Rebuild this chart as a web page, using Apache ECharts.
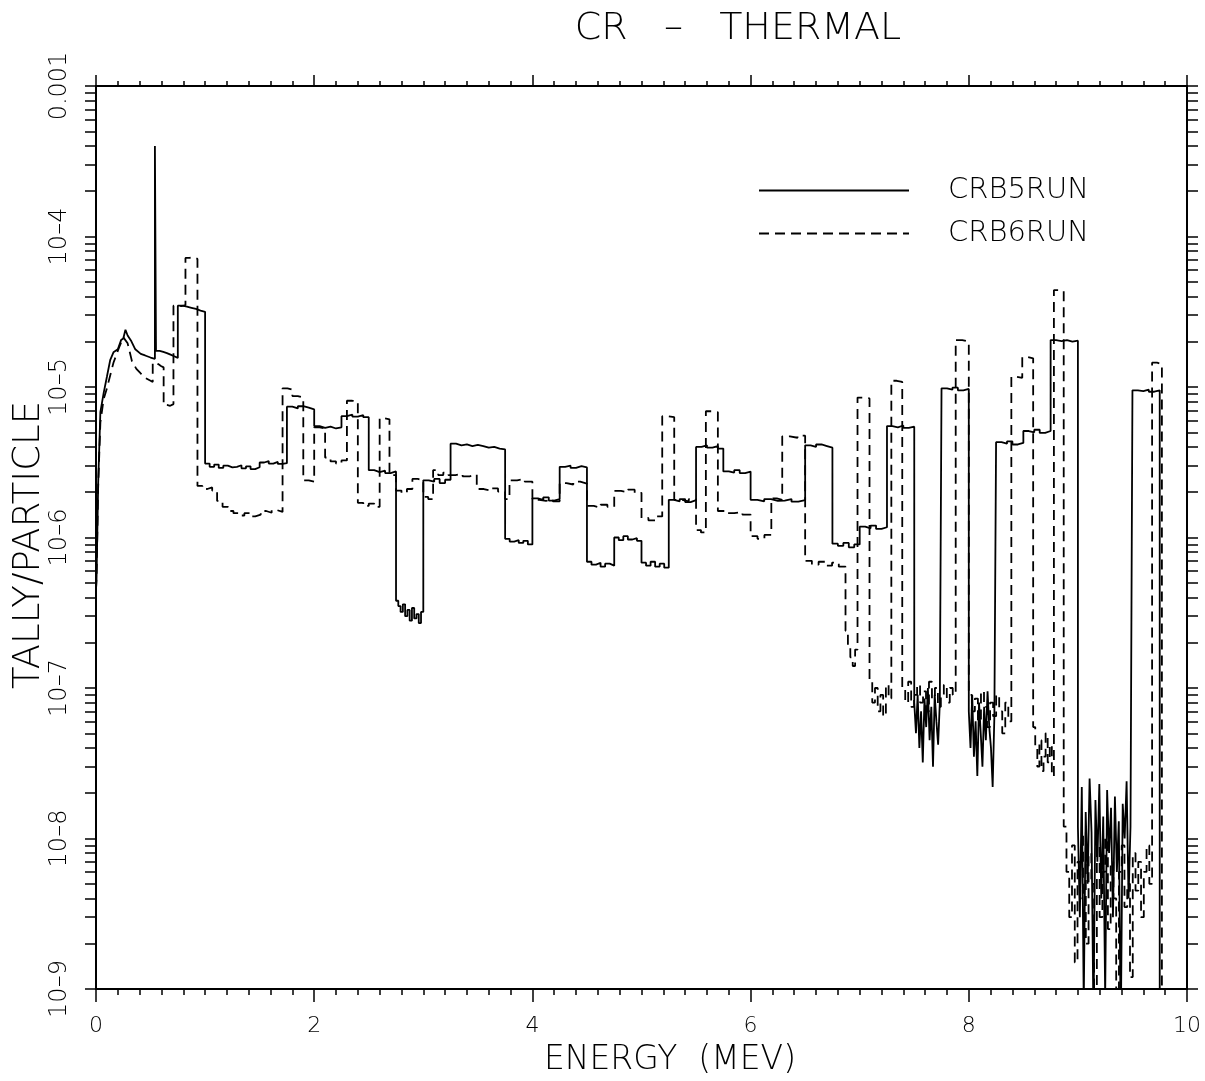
<!DOCTYPE html>
<html>
<head>
<meta charset="utf-8">
<title>CR - THERMAL</title>
<script src="https://cdn.jsdelivr.net/npm/echarts@6/dist/echarts.min.js"></script>
<style>
  html, body { margin: 0; padding: 0; background: #fff; }
  #chart { width: 1205px; height: 1081px; }
</style>
</head>
<body>
<div id="chart"></div>
<script>
// Tick labels: energy in MeV, tally decades as powers of ten
const energyTicks = [0, 2, 4, 6, 8, 10];
const tallyDecades = [-9, -8, -7, -6, -5, -4, -3];

// CRB5RUN low-energy continuum, points [E (MeV), tally/particle]
const crb5Curve = [
  [0.0, 4.5e-7], [0.005, 5.4e-7], [0.02, 2.3e-6], [0.04, 6.8e-6], [0.07, 9.1e-6],
  [0.10, 1.17e-5], [0.13, 1.51e-5], [0.16, 1.70e-5], [0.20, 1.78e-5], [0.23, 2.05e-5],
  [0.25, 2.1e-5], [0.27, 2.4e-5], [0.29, 2.2e-5], [0.32, 2.04e-5], [0.36, 1.78e-5],
  [0.41, 1.66e-5], [0.45, 1.62e-5], [0.50, 1.57e-5], [0.54, 1.54e-5]
];
// CRB5RUN histogram bin edges (MeV)
const crb5Edges = [
  0.54, 0.55, 0.75, 1.0, 1.25, 1.5, 1.75, 2.0, 2.25, 2.5, 2.75, 3.0, 3.25, 3.5, 3.75,
  4.0, 4.25, 4.5, 4.75, 5.0, 5.25, 5.5, 5.75, 6.0, 6.25, 6.5, 6.75, 7.0, 7.25, 7.5,
  7.75, 8.0, 8.25, 8.5, 8.75, 9.0, 9.5, 9.75, 10.0
];
// CRB5RUN tallies inside each bin (fine channels spread evenly across the bin)
const crb5Levels = [
  [4.0e-4],
  [1.74e-5, 1.71e-5, 1.68e-5, 1.64e-5, 1.6e-5, 1.56e-5],
  [3.47e-5, 3.42e-5, 3.36e-5, 3.3e-5, 3.22e-5, 3.16e-5],
  [3.1e-6, 2.95e-6, 3.05e-6, 2.9e-6, 3.0e-6, 2.92e-6],
  [2.95e-6, 3.02e-6, 2.88e-6, 2.97e-6, 2.85e-6, 2.93e-6],
  [3.15e-6, 3.22e-6, 3.1e-6, 3.18e-6, 3.08e-6, 3.12e-6],
  [7.4e-6, 7.2e-6, 7.45e-6, 7.3e-6, 7.1e-6],
  [5.5e-6, 5.35e-6, 5.45e-6, 5.3e-6, 5.4e-6],
  [6.4e-6, 6.55e-6, 6.35e-6, 6.5e-6, 6.3e-6],
  [2.8e-6, 2.72e-6, 2.78e-6, 2.68e-6, 2.75e-6],
  [3.8e-7, 3.5e-7, 3.2e-7, 3.6e-7, 3.0e-7, 3.3e-7, 2.8e-7, 3.4e-7, 2.9e-7, 3.1e-7, 2.7e-7, 3.2e-7],
  [2.4e-6, 2.35e-6, 2.45e-6, 2.3e-6, 2.42e-6],
  [4.2e-6, 4.1e-6, 4.15e-6, 4.05e-6, 4.12e-6],
  [4.05e-6, 3.95e-6, 4.0e-6, 3.9e-6, 3.85e-6],
  [9.8e-7, 9.4e-7, 9.6e-7, 9.2e-7, 9.5e-7, 9.0e-7],
  [1.82e-6, 1.78e-6, 1.85e-6, 1.76e-6, 1.8e-6],
  [2.95e-6, 3.0e-6, 2.9e-6, 2.98e-6, 2.92e-6],
  [6.9e-7, 6.6e-7, 6.8e-7, 6.4e-7, 6.7e-7, 6.5e-7],
  [1.0e-6, 9.6e-7, 1.02e-6, 9.7e-7, 9.9e-7, 9.5e-7],
  [6.8e-7, 6.5e-7, 6.9e-7, 6.4e-7, 6.7e-7, 6.3e-7],
  [1.78e-6, 1.74e-6, 1.8e-6, 1.72e-6, 1.77e-6],
  [4.0e-6, 4.1e-6, 3.95e-6, 4.05e-6, 3.9e-6],
  [2.75e-6, 2.7e-6, 2.8e-6, 2.68e-6, 2.74e-6],
  [1.78e-6, 1.74e-6, 1.8e-6, 1.75e-6],
  [1.76e-6, 1.8e-6, 1.73e-6, 1.77e-6],
  [4.1e-6, 4.0e-6, 4.15e-6, 4.05e-6, 3.95e-6],
  [9.1e-7, 8.8e-7, 9.2e-7, 8.6e-7, 9.0e-7],
  [1.18e-6, 1.15e-6, 1.2e-6, 1.14e-6, 1.17e-6],
  [5.5e-6, 5.4e-6, 5.55e-6, 5.35e-6, 5.45e-6],
  [8e-8, 5e-8, 9e-8, 4e-8, 7e-8, 3.2e-8, 8.5e-8, 5.5e-8, 1.0e-7, 4.5e-8, 7.5e-8, 3e-8, 9e-8, 6e-8, 4.2e-8, 8e-8],
  [9.8e-6, 9.6e-6, 9.9e-6, 9.5e-6, 9.7e-6],
  [7e-8, 4e-8, 9e-8, 3.5e-8, 6e-8, 2.6e-8, 8e-8, 5e-8, 3e-8, 7.5e-8, 4.5e-8, 9.5e-8, 5.5e-8, 4e-8, 2.2e-8, 6.5e-8],
  [4.3e-6, 4.2e-6, 4.35e-6, 4.15e-6, 4.25e-6],
  [5.1e-6, 5.0e-6, 5.2e-6, 4.95e-6, 5.1e-6],
  [2.05e-5, 2.02e-5, 2.05e-5, 2.0e-5, 2.03e-5],
  [1.2e-8, 3e-9, 2.2e-8, 8e-10, 1.5e-8, 5e-9, 2.5e-8, 1.1e-8, 6e-10, 1.8e-8, 7e-9, 2.3e-8, 4e-9, 1.4e-8,
   9e-10, 2.1e-8, 8e-9, 1.6e-8, 3e-9, 1.9e-8, 6e-9, 1.3e-8, 5e-10, 1.7e-8, 1.0e-8, 2.4e-8, 4e-9, 1.2e-8],
  [9.5e-6, 9.4e-6, 9.6e-6, 9.3e-6, 9.5e-6],
  [1e-10]
];

// CRB6RUN low-energy continuum, points [E (MeV), tally/particle]
const crb6Curve = [
  [0.0, 4.5e-7], [0.005, 5.4e-7], [0.02, 2.2e-6], [0.04, 5.8e-6], [0.07, 8.3e-6],
  [0.10, 9.8e-6], [0.16, 1.45e-5], [0.21, 1.82e-5], [0.25, 2.14e-5], [0.29, 1.95e-5],
  [0.33, 1.48e-5], [0.37, 1.32e-5], [0.41, 1.23e-5], [0.45, 1.15e-5], [0.50, 1.1e-5],
  [0.52, 1.08e-5]
];
// CRB6RUN histogram bin edges (MeV)
const crb6Edges = [
  0.52, 0.62, 0.71, 0.82, 0.93, 1.11, 1.71, 1.80, 1.90, 2.0, 2.10, 2.30, 2.40, 2.60,
  2.69, 2.75, 2.90, 3.0, 3.09, 3.23, 3.49, 3.75, 3.79, 4.0, 4.25, 4.5, 4.75, 5.0,
  5.19, 5.30, 5.5, 5.59, 5.70, 6.0, 6.19, 6.29, 6.5, 6.87, 6.98, 7.09, 7.29, 7.39,
  7.88, 8.0, 8.39, 8.49, 8.59, 8.78, 8.87, 9.68, 9.77, 10.0
];
// CRB6RUN tallies inside each bin
const crb6Levels = [
  [1.45e-5, 1.42e-5, 1.38e-5, 1.35e-5],
  [7.6e-6, 7.5e-6, 7.7e-6],
  [3.47e-5, 3.45e-5, 3.5e-5],
  [7.2e-5, 7.3e-5, 7.1e-5],
  [2.2e-6, 2.1e-6, 2.15e-6, 2.05e-6],
  [1.75e-6, 1.6e-6, 1.5e-6, 1.45e-6, 1.4e-6, 1.45e-6, 1.38e-6, 1.42e-6, 1.5e-6, 1.46e-6, 1.52e-6, 1.48e-6],
  [9.8e-6, 9.6e-6],
  [8.7e-6, 8.5e-6],
  [2.4e-6, 2.35e-6],
  [5.4e-6, 5.3e-6],
  [3.4e-6, 3.2e-6, 3.1e-6, 3.25e-6],
  [8.1e-6, 8.0e-6],
  [1.7e-6, 1.62e-6, 1.68e-6, 1.6e-6],
  [6.2e-6, 6.1e-6],
  [2.6e-6],
  [2.05e-6, 1.98e-6, 2.1e-6],
  [2.45e-6, 2.4e-6],
  [1.86e-6, 1.8e-6],
  [2.8e-6, 2.6e-6, 2.7e-6],
  [2.6e-6, 2.65e-6, 2.55e-6, 2.62e-6],
  [2.1e-6, 2.05e-6, 2.12e-6, 2.02e-6],
  [1.8e-6],
  [2.4e-6, 2.45e-6, 2.35e-6],
  [1.78e-6, 1.75e-6, 1.8e-6, 1.74e-6],
  [2.3e-6, 2.25e-6, 2.35e-6, 2.28e-6],
  [1.62e-6, 1.58e-6, 1.65e-6, 1.6e-6],
  [2.04e-6, 2.0e-6, 2.08e-6, 1.98e-6],
  [1.35e-6, 1.3e-6, 1.38e-6],
  [6.4e-6, 6.3e-6],
  [1.78e-6, 1.74e-6, 1.8e-6],
  [1.12e-6, 1.08e-6],
  [6.9e-6, 6.8e-6],
  [1.5e-6, 1.45e-6, 1.48e-6, 1.42e-6],
  [1.02e-6, 9.8e-7, 1.04e-6],
  [1.82e-6, 1.78e-6],
  [4.7e-6, 4.6e-6, 4.75e-6],
  [7.0e-7, 6.6e-7, 6.9e-7, 6.5e-7, 6.8e-7, 6.4e-7],
  [2.4e-7, 1.9e-7, 1.6e-7, 1.4e-7, 1.8e-7],
  [8.5e-6, 8.4e-6],
  [1.1e-7, 8e-8, 1.0e-7, 7e-8, 9e-8, 6.5e-8, 1.05e-7, 8.5e-8],
  [1.1e-5, 1.08e-5],
  [1.0e-7, 8e-8, 1.1e-7, 7.5e-8, 9e-8, 1.05e-7, 8e-8, 9.5e-8, 7e-8, 1.1e-7, 8.5e-8, 1.0e-7, 7.5e-8, 9e-8, 1.05e-7, 8e-8, 1.0e-7, 9e-8],
  [2.05e-5, 2.0e-5],
  [9e-8, 7e-8, 8.5e-8, 6e-8, 9.5e-8, 7.5e-8, 5.5e-8, 8e-8, 6.5e-8, 9e-8, 7e-8, 5e-8, 8e-8, 6e-8],
  [1.17e-5, 1.15e-5],
  [1.58e-5, 1.55e-5],
  [5.5e-8, 4e-8, 3e-8, 4.5e-8, 2.8e-8, 3.5e-8, 5e-8, 3.2e-8, 4.2e-8, 2.6e-8],
  [4.4e-5, 4.35e-5],
  [1.2e-8, 6e-9, 3e-9, 9e-9, 1.5e-9, 7e-9, 4e-9, 1.1e-8, 2e-9, 8e-9, 5e-9, 7e-10, 9e-9, 3e-9, 6e-9, 1.0e-8,
   2.5e-9, 7e-9, 4e-9, 8e-10, 6e-9, 9e-9, 3.5e-9, 5e-9, 1.2e-9, 8e-9, 4.5e-9, 7e-9, 3e-9, 6e-9, 9e-9, 5e-9],
  [1.45e-5, 1.42e-5],
  [1e-10]
];

// The tally axis runs in log10 space; a histogram bin becomes a flat run per channel.
function histogramPoints(curve, edges, levels) {
  const pts = curve.map(p => [p[0], Math.log10(p[1])]);
  levels.forEach((vals, i) => {
    const e0 = edges[i], w = (edges[i + 1] - e0) / vals.length;
    vals.forEach((v, j) => {
      const ly = Math.log10(v);
      pts.push([e0 + j * w, ly], [e0 + (j + 1) * w, ly]);
    });
  });
  return pts;
}

// Log-axis tick marks: 1..9 times each decade
const logTicks = [];
tallyDecades.forEach(d => {
  if (d === tallyDecades[tallyDecades.length - 1]) { logTicks.push(d); return; }
  for (let k = 1; k <= 9; k++) logTicks.push(d + Math.log10(k));
});

const FONT = 'DejaVu Sans';
const BLACK = '#000';

const decadeLabel = v => {
  const d = Math.round(v);
  return d === -3 ? '0.001' : '10\u2013' + (-d);
};

const xAxisBase = {
  type: 'value', min: 0, max: 10, interval: 2,
  axisLine: { show: true, onZero: false, lineStyle: { color: BLACK, width: 2 } },
  splitLine: { show: false }
};
const yAxisBase = {
  type: 'value', min: -9, max: -3, interval: 1,
  axisLine: { show: true, onZero: false, lineStyle: { color: BLACK, width: 2 } },
  axisTick: { show: true, inside: false, length: 11, customValues: logTicks, lineStyle: { color: BLACK, width: 1.5 } },
  splitLine: { show: false }
};

const chart = echarts.init(document.getElementById('chart'), null, { renderer: 'canvas' });
chart.setOption({
  animation: false,
  backgroundColor: '#fff',
  grid: { left: 96, top: 86, width: 1091, height: 903, containLabel: false, outerBoundsMode: 'none' },
  xAxis: [
    Object.assign({}, xAxisBase, {
      position: 'bottom',
      axisTick: { show: true, inside: false, length: 13, lineStyle: { color: BLACK, width: 1.5 } },
      minorTick: { show: true, splitNumber: 10, length: 6, lineStyle: { color: BLACK, width: 1.5 } },
      axisLabel: { show: true, color: BLACK, fontSize: 22, fontFamily: FONT, fontWeight: 200, margin: 26,
                   customValues: energyTicks }
    }),
    Object.assign({}, xAxisBase, {
      position: 'top',
      axisTick: { show: true, inside: false, length: 11, lineStyle: { color: BLACK, width: 1.5 } },
      minorTick: { show: true, splitNumber: 10, length: 5, lineStyle: { color: BLACK, width: 1.5 } },
      axisLabel: { show: false }
    })
  ],
  yAxis: [
    Object.assign({}, yAxisBase, {
      position: 'left',
      axisLabel: { show: true, color: BLACK, fontSize: 24, fontFamily: FONT, fontWeight: 200, rotate: 90, margin: 24,
                   customValues: tallyDecades, formatter: decadeLabel }
    }),
    Object.assign({}, yAxisBase, {
      position: 'right',
      axisLabel: { show: false }
    })
  ],
  legend: {
    orient: 'vertical', left: 753, top: 171,
    itemWidth: 150, itemHeight: 14, itemGap: 14,
    selectedMode: false,
    itemStyle: { opacity: 0 },
    textStyle: { color: BLACK, fontSize: 29, fontFamily: FONT, fontWeight: 200, padding: [0, 0, 0, 34] },
    data: ['CRB5RUN', 'CRB6RUN']
  },
  graphic: [
    { type: 'text', x: 738, y: 29,
      style: { text: 'CR   \u2013   THERMAL', fill: BLACK, fontSize: 38, fontFamily: FONT, fontWeight: 200,
               align: 'center', verticalAlign: 'middle', textAlign: 'center', textVerticalAlign: 'middle' } },
    { type: 'text', x: 670, y: 1060,
      style: { text: 'ENERGY  (MEV)', fill: BLACK, fontSize: 33, fontFamily: FONT, fontWeight: 200,
               align: 'center', verticalAlign: 'middle', textAlign: 'center', textVerticalAlign: 'middle' } },
    { type: 'text', x: 29, y: 545, rotation: Math.PI / 2,
      style: { text: 'TALLY/PARTICLE', fill: BLACK, fontSize: 37, fontFamily: FONT, fontWeight: 200,
               align: 'center', verticalAlign: 'middle', textAlign: 'center', textVerticalAlign: 'middle' } }
  ],
  series: [
    {
      name: 'CRB5RUN', type: 'line', xAxisIndex: 0, yAxisIndex: 0,
      data: histogramPoints(crb5Curve, crb5Edges, crb5Levels),
      symbol: 'none', showSymbol: false, clip: true,
      lineStyle: { color: BLACK, width: 1.8, type: 'solid' },
      itemStyle: { color: BLACK }
    },
    {
      name: 'CRB6RUN', type: 'line', xAxisIndex: 0, yAxisIndex: 0,
      data: histogramPoints(crb6Curve, crb6Edges, crb6Levels),
      symbol: 'none', showSymbol: false, clip: true,
      lineStyle: { color: BLACK, width: 1.8, type: [10, 6] },
      itemStyle: { color: BLACK }
    }
  ]
});
</script>
</body>
</html>
